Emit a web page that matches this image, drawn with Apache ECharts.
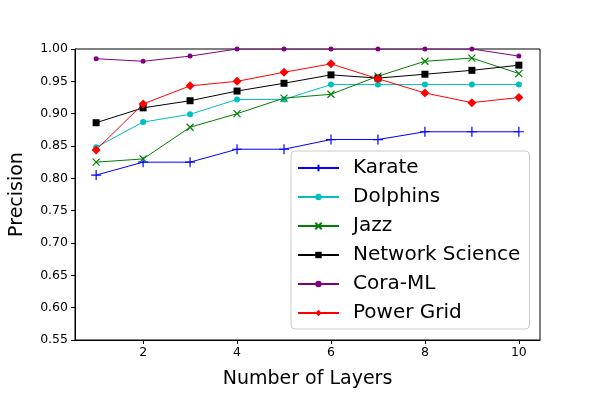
<!DOCTYPE html>
<html>
<head>
<meta charset="utf-8">
<script src="https://cdn.jsdelivr.net/npm/echarts@6/dist/echarts.min.js"></script>
<style>html,body{margin:0;padding:0;background:#fff}#main{width:600px;height:400px}</style>
</head>
<body>
<div id="main"></div>
<script>
var myChart = echarts.init(document.getElementById('main'));

var layers = [1, 2, 3, 4, 5, 6, 7, 8, 9, 10];
var xTicks = [2, 4, 6, 8, 10];

var karate = [0.805, 0.825, 0.825, 0.845, 0.845, 0.860, 0.860, 0.872, 0.872, 0.872];
var dolphins = [0.848, 0.887, 0.899, 0.922, 0.922, 0.945, 0.945, 0.945, 0.945, 0.945];
var jazz = [0.825, 0.830, 0.879, 0.900, 0.924, 0.930, 0.958, 0.981, 0.986, 0.962];
var networkScience = [0.886, 0.909, 0.920, 0.935, 0.947, 0.960, 0.955, 0.961, 0.967, 0.975];
var coraML = [0.985, 0.981, 0.989, 1.0, 1.0, 1.0, 1.0, 1.0, 1.0, 0.989];
var powerGrid = [0.844, 0.915, 0.943, 0.950, 0.964, 0.977, 0.954, 0.932, 0.917, 0.925];

var plusPath = 'path://M0,5L10,5M5,0L5,10';
var crossPath = 'path://M0,0L10,10M10,0L0,10';

function pairs(ys) {
    return layers.map(function (x, i) { return [x, ys[i]]; });
}

function makeSeries(name, ys, color, symbol, size, stroke) {
    return {
        name: name,
        type: 'line',
        data: pairs(ys),
        symbol: symbol,
        symbolSize: size,
        showAllSymbol: true,
        lineStyle: { color: color, width: 1 },
        itemStyle: stroke
            ? { color: 'rgba(0,0,0,0)', borderColor: color, borderWidth: 1.2 }
            : { color: color, borderWidth: 0 },
        emphasis: { disabled: true },
        animation: false
    };
}

var option = {
    backgroundColor: '#fff',
    textStyle: { fontFamily: 'DejaVu Sans' },
    grid: {
        left: 75,
        right: 60,
        top: 49,
        bottom: 60,
        show: true,
        borderColor: '#000',
        borderWidth: 1,
        backgroundColor: 'transparent'
    },
    legend: {
        orient: 'vertical',
        left: 291,
        top: 151,
        padding: [7, 9, 6, 6],
        backgroundColor: '#fff',
        borderColor: '#ccc',
        borderWidth: 1,
        borderRadius: 4,
        itemWidth: 41,
        itemHeight: 8,
        itemGap: 9,
        textStyle: { fontSize: 20, lineHeight: 20, color: '#000', fontFamily: 'DejaVu Sans', padding: [0, 0, 0, 9] },
        data: ['Karate', 'Dolphins', 'Jazz', 'Network Science', 'Cora-ML', 'Power Grid']
    },
    xAxis: {
        type: 'value',
        min: 0.55,
        max: 10.45,
        name: 'Number of Layers',
        nameLocation: 'middle',
        nameGap: 30,
        nameTextStyle: { fontSize: 19, color: '#000' },
        splitLine: { show: false },
        axisLine: { lineStyle: { color: '#000' } },
        axisTick: { customValues: xTicks, length: 4, lineStyle: { color: '#000' } },
        axisLabel: { customValues: xTicks, color: '#000', fontSize: 12.5, margin: 6 }
    },
    yAxis: {
        type: 'value',
        min: 0.55,
        max: 1.0,
        interval: 0.05,
        name: 'Precision',
        nameLocation: 'middle',
        nameGap: 48,
        nameTextStyle: { fontSize: 19, color: '#000' },
        splitLine: { show: false },
        axisLine: { show: true, lineStyle: { color: '#000' } },
        axisTick: { show: true, length: 4, lineStyle: { color: '#000' } },
        axisLabel: {
            color: '#000',
            fontSize: 12.5,
            margin: 7,
            formatter: function (v) { return v.toFixed(2); }
        }
    },
    series: [
        makeSeries('Karate', karate, '#0000ff', plusPath, 10, true),
        makeSeries('Dolphins', dolphins, '#00bfbf', 'circle', 6, false),
        makeSeries('Jazz', jazz, '#008000', crossPath, 7, true),
        makeSeries('Network Science', networkScience, '#000000', 'rect', 7, false),
        makeSeries('Cora-ML', coraML, '#800080', 'circle', 5, false),
        makeSeries('Power Grid', powerGrid, '#ff0000', 'diamond', 9, false)
    ]
};

myChart.setOption(option);
</script>
</body>
</html>
